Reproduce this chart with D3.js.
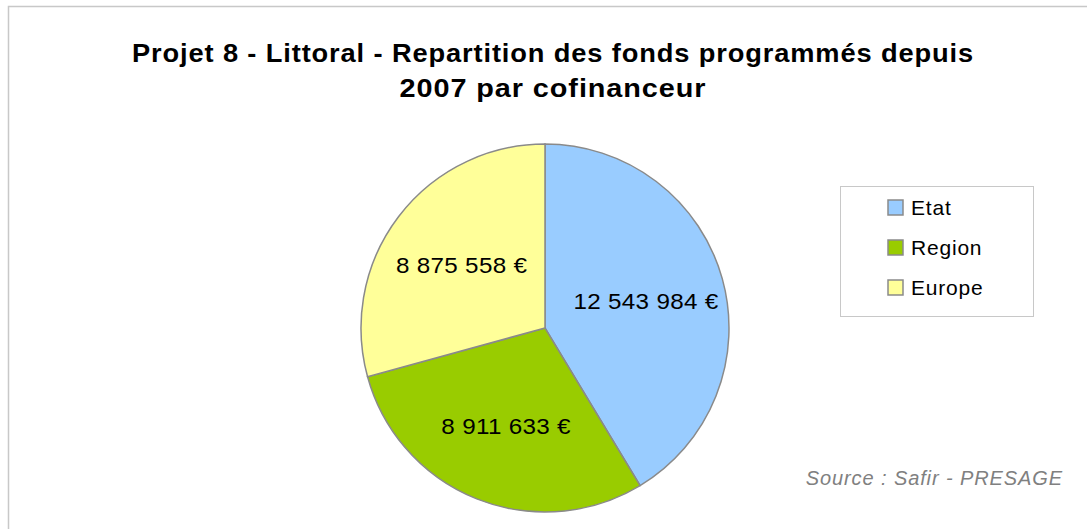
<!DOCTYPE html>
<html><head><meta charset="utf-8">
<script src="https://cdn.jsdelivr.net/npm/d3@7"></script>
<style>body{margin:0;background:#fff;} svg{display:block;font-family:"Liberation Sans",Arial,sans-serif;}</style>
</head><body>
<svg id="c" width="1087" height="529"></svg>
<script>
const categories = ["Etat", "Region", "Europe"];
const values = [12543984, 8911633, 8875558];
const colors = ["#99CCFF", "#99CC00", "#FFFF99"];
const titleLines = ["Projet 8 - Littoral - Repartition des fonds programmés depuis", "2007 par cofinanceur"];
const sourceText = "Source : Safir - PRESAGE";

const svg = d3.select("#c");
svg.append("rect").attr("x", 8.5).attr("y", 6.5).attr("width", 1100).attr("height", 600)
  .attr("fill", "#fff").attr("stroke", "#c8c8c8").attr("stroke-width", 1.5);

const titleWidths = [842, 307];
svg.selectAll("text.title").data(titleLines).join("text").attr("class", "title")
  .attr("x", 553).attr("y", (d, i) => 61.5 + i * 35)
  .attr("text-anchor", "middle").attr("font-weight", "bold").attr("font-size", 25)
  .attr("letter-spacing", 0.8)
  .attr("textLength", (d, i) => titleWidths[i]).attr("lengthAdjust", "spacingAndGlyphs")
  .attr("fill", "#000").text(d => d);

const fmt = v => d3.format(",")(v).replace(/,/g, " ") + " €";
const cx = 545, cy = 328, r = 184;
const pie = d3.pie().sort(null).value(d => d.v);
const data = categories.map((c, i) => ({ c, v: values[i], col: colors[i] }));
const arcs = pie(data);
const arc = d3.arc().innerRadius(0).outerRadius(r);
const labelArc = d3.arc().innerRadius(r * 0.57).outerRadius(r * 0.57);
const g = svg.append("g").attr("transform", `translate(${cx},${cy})`);
g.selectAll("path").data(arcs).join("path").attr("d", arc)
  .attr("fill", d => d.data.col).attr("stroke", "#8a8a8a").attr("stroke-width", 1.5);
g.selectAll("text").data(arcs).join("text")
  .attr("transform", d => `translate(${labelArc.centroid(d)}) scale(1.1,1)`)
  .attr("text-anchor", "middle").attr("dy", "0.4em").attr("font-size", 22)
  .attr("letter-spacing", 0.3)
  .text(d => fmt(d.data.v));

const lg = svg.append("g");
lg.append("rect").attr("x", 840.5).attr("y", 186.5).attr("width", 193).attr("height", 130)
  .attr("fill", "#fff").attr("stroke", "#c8c8c8").attr("stroke-width", 1);
const items = lg.selectAll("g.it").data(data).join("g").attr("class", "it")
  .attr("transform", (d, i) => `translate(888,${208 + i * 40})`);
items.append("rect").attr("x", 0).attr("y", -8).attr("width", 15).attr("height", 15)
  .attr("fill", d => d.col).attr("stroke", "#8a8a8a").attr("stroke-width", 1.5);
items.append("text").attr("x", 23).attr("dy", "0.35em").attr("font-size", 21)
  .attr("letter-spacing", 0.8).text(d => d.c);

svg.append("text").attr("x", 1063).attr("y", 485).attr("text-anchor", "end")
  .attr("font-style", "italic").attr("font-size", 20).attr("letter-spacing", 0.9)
  .attr("fill", "#808080").text(sourceText);
</script>
</body></html>
